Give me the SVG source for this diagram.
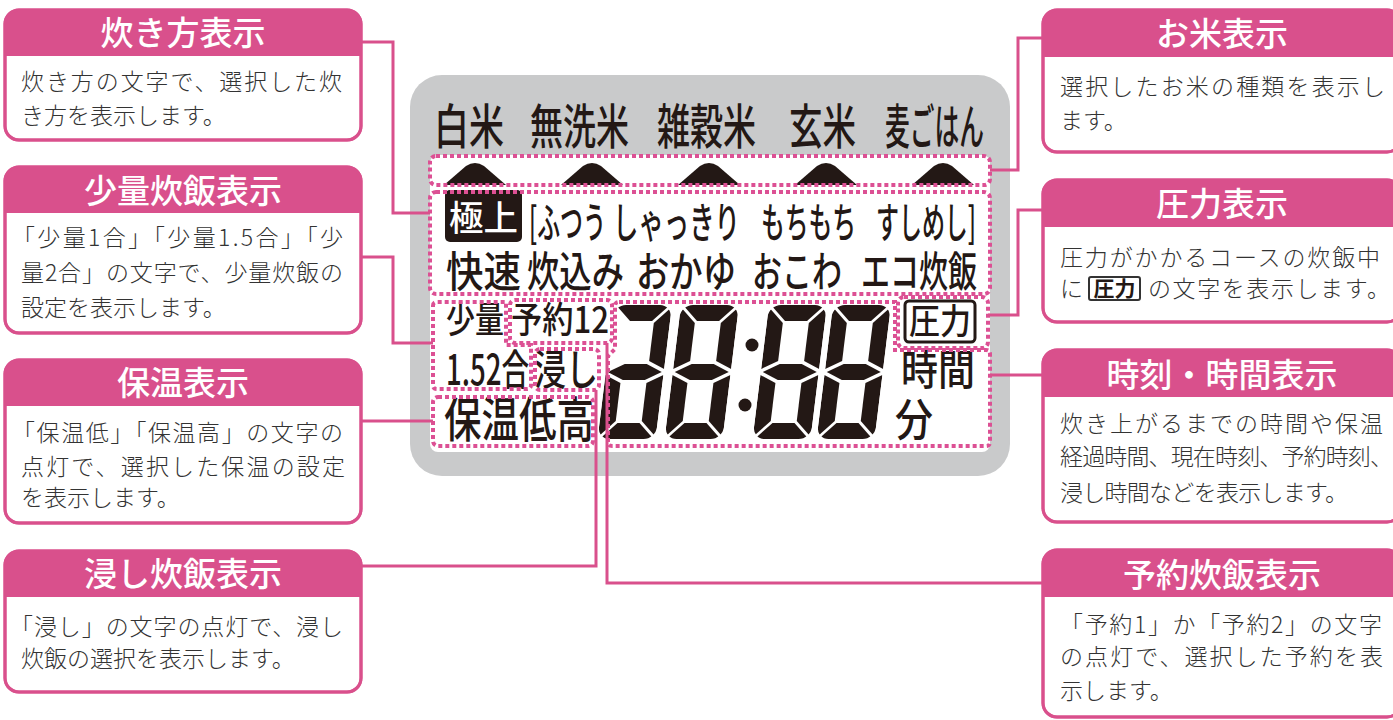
<svg xmlns="http://www.w3.org/2000/svg" width="1393" height="720" viewBox="0 0 1393 720">
<style>
.box{fill:#fff;stroke:#d9508c;stroke-width:3}
.hdf{fill:#d9508c}
.hd{font-family:"Noto Sans CJK JP","Noto Sans",sans-serif;font-size:33px;fill:#fff;font-weight:500;text-anchor:middle}
.bd{font-family:"Noto Sans CJK JP","Noto Sans",sans-serif;font-size:23px;fill:#333;font-weight:300}
.lcd{font-family:"Noto Sans CJK JP","Noto Sans",sans-serif;fill:#231815;font-weight:500}
.dot{fill:none;stroke:#dc5094;stroke-width:4;stroke-dasharray:4 3}
.con{fill:none;stroke:#d9508c;stroke-width:3}
.seg{fill:#231815}
</style>
<defs>
<clipPath id="dc"><rect x="0" y="0" width="58" height="134" rx="12"/></clipPath>
<g id="s7">
<polygon points="2,0 56,0 40,16 18,16"/>
<polygon points="58,2 58,64 42,56 42,18"/>
<polygon points="58,70 58,132 42,116 42,78"/>
<polygon points="18,118 40,118 56,134 2,134"/>
<polygon points="0,70 16,78 16,116 0,132"/>
<polygon points="2,67 18,59 40,59 56,67 40,75 18,75"/>
</g>
<g id="s8">
<use href="#s7"/>
<polygon points="0,2 16,18 16,56 0,64"/>
</g>
</defs>

<!-- LCD panel -->
<g id="panel">
<rect x="410" y="75" width="600" height="401" rx="32" fill="#c9cacb"/>
<rect x="430" y="155" width="560" height="297" rx="8" fill="#fff"/>
</g>

<g id="rice-labels" class="lcd" font-size="48">
<text x="434" y="144" textLength="70" lengthAdjust="spacingAndGlyphs">白米</text>
<text x="530" y="144" textLength="99" lengthAdjust="spacingAndGlyphs">無洗米</text>
<text x="657" y="144" textLength="99" lengthAdjust="spacingAndGlyphs">雑穀米</text>
<text x="789" y="144" textLength="67" lengthAdjust="spacingAndGlyphs">玄米</text>
<text x="885" y="144" textLength="99" lengthAdjust="spacingAndGlyphs">麦ごはん</text>
</g>

<g id="rice-markers" class="seg">
<path d="M444,185 L466,166 Q475,160 484,166 L506,185 Z"/>
<path d="M561,185 L583,166 Q592,160 601,166 L623,185 Z"/>
<path d="M678,185 L700,166 Q709,160 718,166 L740,185 Z"/>
<path d="M795,185 L817,166 Q826,160 835,166 L857,185 Z"/>
<path d="M912,185 L934,166 Q943,160 952,166 L974,185 Z"/>
</g>

<g id="course-labels" class="lcd" font-size="42">
<rect x="445" y="190" width="77" height="52" rx="5" fill="#231815"/>
<text x="449" y="231" font-size="35" textLength="69" lengthAdjust="spacingAndGlyphs" style="fill:#fff">極上</text>
<text x="529" y="238" textLength="77" lengthAdjust="spacingAndGlyphs">[ふつう</text>
<text x="613" y="238" textLength="127" lengthAdjust="spacingAndGlyphs">しゃっきり</text>
<text x="761" y="238" textLength="95" lengthAdjust="spacingAndGlyphs">もちもち</text>
<text x="876" y="238" textLength="100" lengthAdjust="spacingAndGlyphs">すしめし]</text>
<text x="446" y="287" textLength="75" lengthAdjust="spacingAndGlyphs">快速</text>
<text x="527" y="287" textLength="97" lengthAdjust="spacingAndGlyphs">炊込み</text>
<text x="636" y="287" textLength="100" lengthAdjust="spacingAndGlyphs">おかゆ</text>
<text x="752" y="287" textLength="90" lengthAdjust="spacingAndGlyphs">おこわ</text>
<text x="861" y="287" textLength="116" lengthAdjust="spacingAndGlyphs">エコ炊飯</text>
</g>

<g id="status-labels" class="lcd">
<text x="446" y="333" font-size="36" textLength="58" lengthAdjust="spacingAndGlyphs">少量</text>
<text x="511" y="333" font-size="36" textLength="98" lengthAdjust="spacingAndGlyphs">予約12</text>
<text x="446" y="385" font-size="42" textLength="83" lengthAdjust="spacingAndGlyphs">1.52合</text>
<text x="534" y="385" font-size="42" textLength="64" lengthAdjust="spacingAndGlyphs">浸し</text>
<text x="444" y="437" font-size="48" textLength="150" lengthAdjust="spacingAndGlyphs">保温低高</text>
<rect x="905" y="301" width="70" height="41" rx="4" fill="none" stroke="#231815" stroke-width="3"/>
<text x="909" y="334" font-size="35" textLength="62" lengthAdjust="spacingAndGlyphs">圧力</text>
<text x="901" y="385" font-size="42" textLength="74" lengthAdjust="spacingAndGlyphs">時間</text>
<text x="895" y="436" font-size="44" textLength="38" lengthAdjust="spacingAndGlyphs">分</text>
</g>

<g id="digits" class="seg">
<use href="#s7" transform="translate(614,305) skewX(-7)" clip-path="url(#dc)"/>
<use href="#s8" transform="translate(681,305) skewX(-7)" clip-path="url(#dc)"/>
<circle cx="752" cy="345" r="6.5"/>
<circle cx="745" cy="405" r="6.5"/>
<use href="#s8" transform="translate(769,305) skewX(-7)" clip-path="url(#dc)"/>
<use href="#s8" transform="translate(833,305) skewX(-7)" clip-path="url(#dc)"/>
</g>

<g id="zones">
<rect class="dot" x="430" y="156" width="560" height="29" rx="6"/>
<rect class="dot" x="430" y="192" width="560" height="102" rx="6"/>
<path class="dot" d="M433,306 Q433,302 437,302 H506 V345 H531 V385 Q531,389 527,389 H437 Q433,389 433,385 Z"/>
<rect class="dot" x="510" y="300" width="102" height="43" rx="5"/>
<rect class="dot" x="535" y="349" width="64" height="41" rx="5"/>
<rect class="dot" x="433" y="397" width="160" height="49" rx="5"/>
<path class="dot" d="M619,302 H895 V350 H986 Q990,350 990,354 V442 Q990,446 986,446 H612 Q608,446 608,442 V356 L615,349 V306 Q615,302 619,302 Z"/>
<rect class="dot" x="898" y="297" width="90" height="51" rx="6"/>
</g>

<g id="connectors">
<path class="con" d="M362,42 H393 V213 H430"/>
<path class="con" d="M362,257 H393 V343 H433"/>
<path class="con" d="M362,421 H433"/>
<path class="con" d="M362,566 H596 V390"/>
<path class="con" d="M1043,583 H607 V343"/>
<path class="con" d="M1043,38 H1018 V170 H990"/>
<path class="con" d="M1043,210 H1018 V315 H988"/>
<path class="con" d="M1043,375 H990"/>
</g>

<g id="callout-takikata">
<rect class="box" x="5" y="10" width="356" height="130" rx="14"/>
<path class="hdf" d="M5,24 A14,14 0 0 1 19,10 H347 A14,14 0 0 1 361,24 V56 H5 Z"/>
<rect x="5" y="10" width="356" height="130" rx="14" fill="none" stroke="#d9508c" stroke-width="3"/>
<text class="hd" x="183" y="45">炊き方表示</text>
<text class="bd" x="21" y="90" textLength="321" lengthAdjust="spacing">炊き方の文字で、選択した炊</text>
<text class="bd" x="21" y="124">き方を表示します。</text>
</g>

<g id="callout-shoryo">
<rect class="box" x="5" y="167" width="356" height="166" rx="14"/>
<path class="hdf" d="M5,181 A14,14 0 0 1 19,167 H347 A14,14 0 0 1 361,181 V213 H5 Z"/>
<rect x="5" y="167" width="356" height="166" rx="14" fill="none" stroke="#d9508c" stroke-width="3"/>
<text class="hd" x="183" y="203">少量炊飯表示</text>
<text class="bd" x="12" y="246" textLength="331" lengthAdjust="spacing">「少量1合」「少量1.5合」「少</text>
<text class="bd" x="21" y="281" textLength="322" lengthAdjust="spacing">量2合」の文字で、少量炊飯の</text>
<text class="bd" x="21" y="316">設定を表示します。</text>
</g>

<g id="callout-hoon">
<rect class="box" x="5" y="360" width="356" height="163" rx="14"/>
<path class="hdf" d="M5,374 A14,14 0 0 1 19,360 H347 A14,14 0 0 1 361,374 V406 H5 Z"/>
<rect x="5" y="360" width="356" height="163" rx="14" fill="none" stroke="#d9508c" stroke-width="3"/>
<text class="hd" x="183" y="395">保温表示</text>
<text class="bd" x="12" y="441" textLength="331" lengthAdjust="spacing">「保温低」「保温高」の文字の</text>
<text class="bd" x="21" y="475" textLength="324" lengthAdjust="spacing">点灯で、選択した保温の設定</text>
<text class="bd" x="21" y="506">を表示します。</text>
</g>

<g id="callout-hitashi">
<rect class="box" x="5" y="551" width="356" height="141" rx="14"/>
<path class="hdf" d="M5,565 A14,14 0 0 1 19,551 H347 A14,14 0 0 1 361,565 V597 H5 Z"/>
<rect x="5" y="551" width="356" height="141" rx="14" fill="none" stroke="#d9508c" stroke-width="3"/>
<text class="hd" x="183" y="586">浸し炊飯表示</text>
<text class="bd" x="10" y="635" textLength="333" lengthAdjust="spacing">「浸し」の文字の点灯で、浸し</text>
<text class="bd" x="21" y="667">炊飯の選択を表示します。</text>
</g>

<g id="callout-okome">
<rect class="box" x="1043" y="10" width="358" height="142" rx="14"/>
<path class="hdf" d="M1043,24 A14,14 0 0 1 1057,10 H1387 A14,14 0 0 1 1401,24 V57 H1043 Z"/>
<rect x="1043" y="10" width="358" height="142" rx="14" fill="none" stroke="#d9508c" stroke-width="3"/>
<text class="hd" x="1222" y="46">お米表示</text>
<text class="bd" x="1060" y="95" textLength="325" lengthAdjust="spacing">選択したお米の種類を表示し</text>
<text class="bd" x="1060" y="129">ます。</text>
</g>

<g id="callout-atsuryoku">
<rect class="box" x="1043" y="180" width="358" height="142" rx="14"/>
<path class="hdf" d="M1043,194 A14,14 0 0 1 1057,180 H1387 A14,14 0 0 1 1401,194 V227 H1043 Z"/>
<rect x="1043" y="180" width="358" height="142" rx="14" fill="none" stroke="#d9508c" stroke-width="3"/>
<text class="hd" x="1222" y="216">圧力表示</text>
<text class="bd" x="1060" y="266" textLength="320" lengthAdjust="spacing">圧力がかかるコースの炊飯中</text>
<text class="bd" x="1060" y="297">に</text>
<rect x="1089" y="277" width="51" height="23" rx="2" fill="none" stroke="#333" stroke-width="2"/>
<text x="1114.5" y="296" font-family="Noto Sans CJK JP, sans-serif" font-size="21" font-weight="bold" fill="#231815" text-anchor="middle">圧力</text>
<text class="bd" x="1148" y="297" textLength="242" lengthAdjust="spacing">の文字を表示します。</text>
</g>

<g id="callout-jikoku">
<rect class="box" x="1043" y="350" width="358" height="172" rx="14"/>
<path class="hdf" d="M1043,364 A14,14 0 0 1 1057,350 H1387 A14,14 0 0 1 1401,364 V397 H1043 Z"/>
<rect x="1043" y="350" width="358" height="172" rx="14" fill="none" stroke="#d9508c" stroke-width="3"/>
<text class="hd" x="1222" y="387">時刻・時間表示</text>
<text class="bd" x="1060" y="432" textLength="323" lengthAdjust="spacing">炊き上がるまでの時間や保温</text>
<text class="bd" x="1060" y="465" textLength="333" lengthAdjust="spacing">経過時間、現在時刻、予約時刻、</text>
<text class="bd" x="1060" y="501" textLength="288" lengthAdjust="spacing">浸し時間などを表示します。</text>
</g>

<g id="callout-yoyaku">
<rect class="box" x="1043" y="550" width="358" height="167" rx="14"/>
<path class="hdf" d="M1043,564 A14,14 0 0 1 1057,550 H1387 A14,14 0 0 1 1401,564 V597 H1043 Z"/>
<rect x="1043" y="550" width="358" height="167" rx="14" fill="none" stroke="#d9508c" stroke-width="3"/>
<text class="hd" x="1222" y="587">予約炊飯表示</text>
<text class="bd" x="1060" y="633" textLength="322" lengthAdjust="spacing">「予約1」か「予約2」の文字</text>
<text class="bd" x="1060" y="665" textLength="323" lengthAdjust="spacing">の点灯で、選択した予約を表</text>
<text class="bd" x="1060" y="699">示します。</text>
</g>
</svg>
